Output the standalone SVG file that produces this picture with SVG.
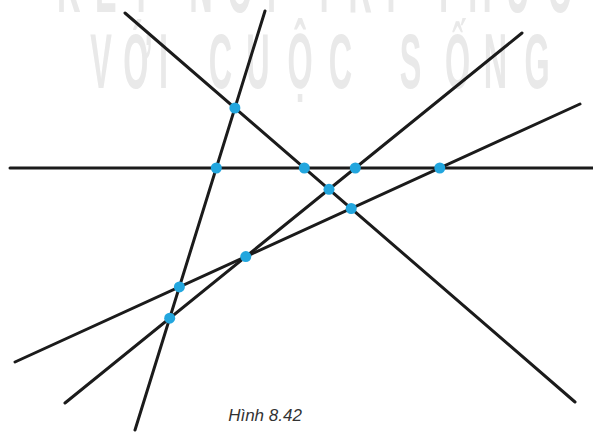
<svg xmlns="http://www.w3.org/2000/svg" width="593" height="432" viewBox="0 0 593 432">
  <style>
    .ln { stroke: #1b1b1b; stroke-width: 3; stroke-linecap: round; fill: none; }
    .pt { fill: #22a6de; }
    .wm { fill: #e9e9e9; font-family: "Liberation Sans", Arial, sans-serif; font-weight: bold; font-size: 77px; text-anchor: middle; }
    .cap { fill: #333333; font-family: "Liberation Sans", Arial, sans-serif; font-style: italic; font-size: 17px; text-anchor: middle; }
  </style>
  <rect width="593" height="432" fill="#ffffff"/>
  <g id="watermark" transform="scale(0.42,1)">
    <text class="wm" x="135.7" y="12" textLength="1223.8" lengthAdjust="spacing" style="text-anchor:start">KẾT NỐI TRI THỨC</text>
    <text class="wm" x="240.5 326.2 389.3 525 614.3 714.3 810.7 977.4 1089.3 1179.8 1278.6" y="88">VỚICUỘCSỐNG</text>
  </g>
  <g id="connectors">
    <line id="l0" class="ln" x1="10" y1="168" x2="593" y2="168"/>
    <line id="l1" class="ln" x1="265" y1="11" x2="135" y2="430"/>
    <line id="l2" class="ln" x1="125" y1="13" x2="575" y2="402"/>
    <line id="l3" class="ln" x1="522" y1="33" x2="65" y2="403"/>
    <line id="l4" class="ln" x1="15" y1="362" x2="580" y2="104"/>
  </g>
  <g id="p-l1-l2"><circle class="pt" cx="234.9" cy="108" r="5.5"/></g>
  <g id="p-l0-l1"><circle class="pt" cx="216.3" cy="168" r="5.5"/></g>
  <g id="p-l0-l2"><circle class="pt" cx="304.3" cy="168" r="5.5"/></g>
  <g id="p-l0-l3"><circle class="pt" cx="355.3" cy="168" r="5.5"/></g>
  <g id="p-l0-l4"><circle class="pt" cx="439.8" cy="168" r="5.5"/></g>
  <g id="p-l2-l3"><circle class="pt" cx="329" cy="189.3" r="5.5"/></g>
  <g id="p-l2-l4"><circle class="pt" cx="351.2" cy="208.5" r="5.5"/></g>
  <g id="p-l3-l4"><circle class="pt" cx="245.8" cy="256.6" r="5.5"/></g>
  <g id="p-l1-l4"><circle class="pt" cx="179.4" cy="286.9" r="5.5"/></g>
  <g id="p-l1-l3"><circle class="pt" cx="169.7" cy="318.2" r="5.5"/></g>
  <g id="caption"><text class="cap" x="265" y="421">Hình 8.42</text></g>
</svg>
